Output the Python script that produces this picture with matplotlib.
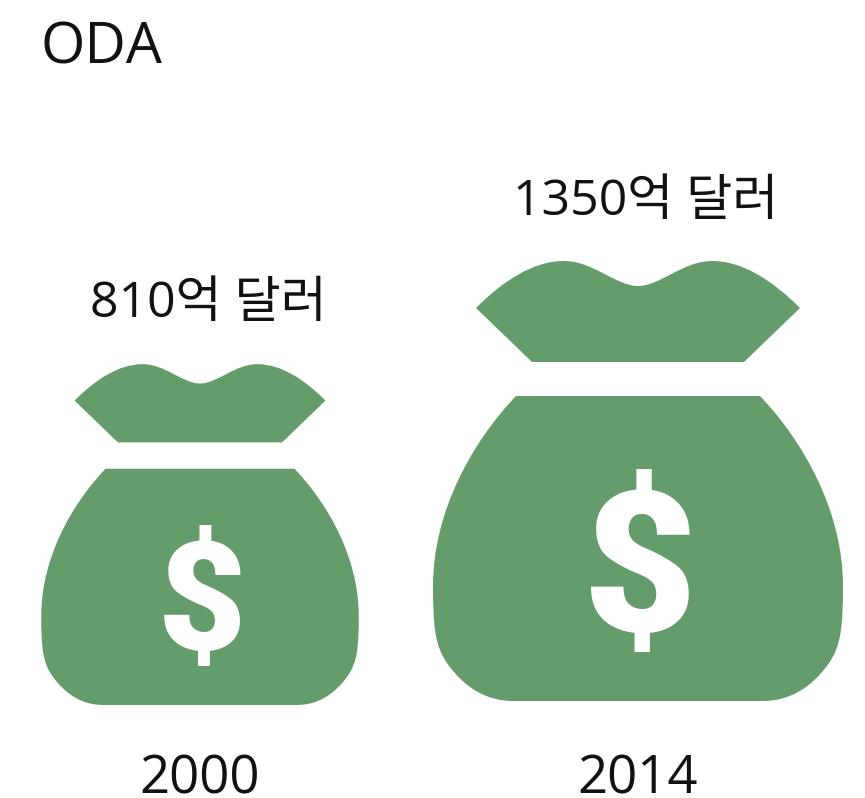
import numpy as np
import matplotlib
matplotlib.use("Agg")
import matplotlib.pyplot as plt
from matplotlib.path import Path
from matplotlib.patches import PathPatch

plt.rcParams['font.family'] = ['Open Sans', 'Noto Sans CJK KR', 'DejaVu Sans']

years = ["2000", "2014"]
values = [810, 1350]
labels = ["810억 달러", "1350억 달러"]
title = "ODA"
bag_color = "#659c6c"
text_color = "#111111"

# bag outline, relative to bottom centre, at the size of the 2014 bag, y up
M, L, C, Z = Path.MOVETO, Path.LINETO, Path.CURVE4, Path.CLOSEPOLY
body = [((-122, 305), M), ((122, 305), L),
        ((165, 260), C), ((205, 190), C), ((205, 115), C),
        ((205, 75), C), ((203, 55), C), ((191, 38), C),
        ((173, 12), C), ((150, 0), C), ((125, 0), C),
        ((-125, 0), L),
        ((-150, 0), C), ((-173, 12), C), ((-191, 38), C),
        ((-203, 55), C), ((-205, 75), C), ((-205, 115), C),
        ((-205, 190), C), ((-165, 260), C), ((-122, 305), C),
        ((-122, 305), Z)]
knot = [((-162, 393), M),
        ((-135, 420), C), ((-105, 440), C), ((-74, 440), C),
        ((-45, 440), C), ((-22, 415), C), ((0, 415), C),
        ((22, 415), C), ((45, 440), C), ((74, 440), C),
        ((105, 440), C), ((135, 420), C), ((162, 393), C),
        ((106, 339), L), ((-106, 339), L), ((-162, 393), L),
        ((-162, 393), Z)]

fig = plt.figure(figsize=(8.65, 7.98), dpi=100)
ax = fig.add_axes([0, 0, 1, 1])
ax.set_xlim(0, 865)
ax.set_ylim(798, 0)
ax.axis("off")

centers = [200, 638]
bottoms = [705, 701]
label_y = [317, 215]
label_x = [208, 646]
ref = values[1]

for i in range(len(years)):
    s = np.sqrt(values[i] / ref)
    for shape in (body, knot):
        pts = [(centers[i] + p[0] * s, bottoms[i] - p[1] * s) for p, _ in shape]
        codes = [c for _, c in shape]
        ax.add_patch(PathPatch(Path(pts, codes), fc=bag_color, ec="none"))
    ax.text(centers[i] + 2 * s, bottoms[i] - 124 * s, "$", color="white", fontweight=900,
            family="Roboto", fontsize=142 * s, ha="center", va="center")
    ax.text(label_x[i], label_y[i], labels[i], fontsize=36, color=text_color,
            ha="center", va="baseline")
    ax.text(centers[i], 794, years[i], fontsize=38, color=text_color, ha="center", va="baseline")

ax.text(40, 63, title, fontsize=41, color=text_color, ha="left", va="baseline")

fig.savefig("out.png", dpi=100)
